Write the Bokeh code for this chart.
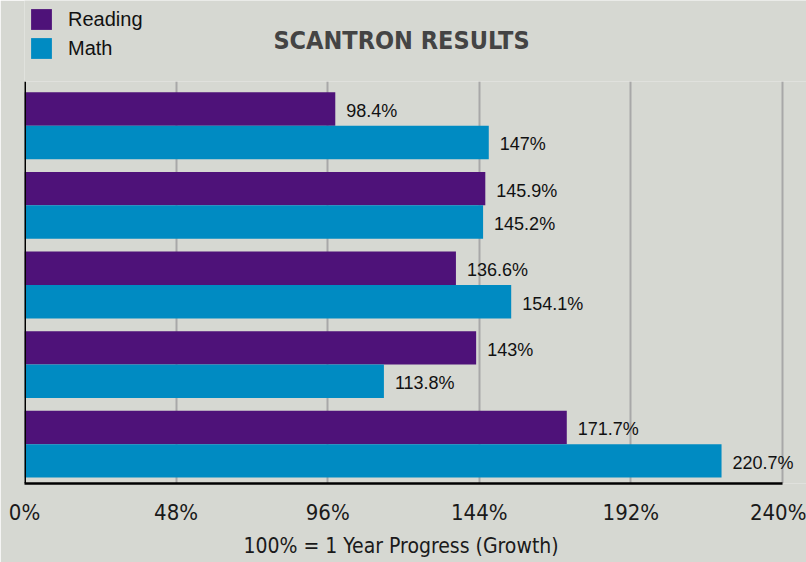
from bokeh.plotting import figure
from bokeh.layouts import column
from bokeh.models import Range1d, FixedTicker, Legend, LegendItem, Label, Span, Title, ColumnDataSource
from bokeh.transform import dodge
from bokeh.core.properties import value
from bokeh.embed import file_html
from bokeh.resources import INLINE

# ---- data ----
groups = [1, 2, 3, 4, 5]
reading = [98.4, 145.9, 136.6, 143, 171.7]
math_scores = [147, 145.2, 154.1, 113.8, 220.7]
reading_labels = ["98.4%", "145.9%", "136.6%", "143%", "171.7%"]
math_labels = ["147%", "145.2%", "154.1%", "113.8%", "220.7%"]
series_names = ["Reading", "Math"]
x_ticks = [0, 48, 96, 144, 192, 240]
x_tick_labels = ["0%", "48%", "96%", "144%", "192%", "240%"]
title_text = "SCANTRON RESULTS"
x_axis_title = "100% = 1 Year Progress (Growth)"

# ---- style ----
BG = "#d6d8d2"
PURPLE = "#4e1279"
BLUE = "#008bc2"
NARROW = "DejaVu Sans Condensed"
SANS = "Liberation Sans"
W = 806

# ---- header (title + legend) ----
header = figure(width=W, height=81, output_backend="svg", toolbar_location=None,
                x_range=Range1d(0, 1), y_range=Range1d(0, 1),
                x_axis_location=None, y_axis_location=None, title_location=None,
                min_border=0)
header.background_fill_color = BG
header.border_fill_color = BG
header.outline_line_color = None
header.grid.visible = False
# legend swatches only (their bar lies outside the visible header range)
lr1 = header.hbar(y=[-5], left=[0], right=[1], height=0.5, fill_color=PURPLE, line_color=None)
lr2 = header.hbar(y=[-5], left=[0], right=[1], height=0.5, fill_color=BLUE, line_color=None)
header.add_layout(Label(x=377, y=41, x_units="screen", y_units="screen", text=title_text,
                        text_align="center", text_baseline="middle", text_font=NARROW,
                        text_font_size="25px", text_font_style="bold", text_color="#444444"))
legend = Legend(items=[LegendItem(label=series_names[0], renderers=[lr1]),
                       LegendItem(label=series_names[1], renderers=[lr2])],
                location=(4, 20), orientation="vertical",
                glyph_width=26, glyph_height=26, label_standoff=14, spacing=3,
                padding=0, margin=0, border_line_color=None, background_fill_alpha=0,
                label_text_font=SANS, label_text_font_size="20px", label_text_color="#111111")
header.add_layout(legend)

# ---- main chart ----
src = ColumnDataSource(dict(g=groups, reading=reading, math=math_scores,
                            rl=reading_labels, ml=math_labels))

p = figure(width=W, height=482, output_backend="svg", toolbar_location=None,
           x_range=Range1d(0, 247.6), y_range=Range1d(5.494, 0.444),
           y_axis_location=None, title_location=None,
           min_border_left=24, min_border_right=0,
           min_border_top=1, min_border_bottom=77)
p.margin = (-1, 0, 0, 0)
p.background_fill_color = BG
p.border_fill_color = BG
p.outline_line_color = None

BAR_H = 0.42
p.hbar(y=dodge("g", -0.21, range=p.y_range), right="reading", left=0, height=BAR_H,
       source=src, fill_color=PURPLE, line_color=None)
p.hbar(y=dodge("g", 0.21, range=p.y_range), right="math", left=0, height=BAR_H,
       source=src, fill_color=BLUE, line_color=None)

p.text(x="reading", y=dodge("g", -0.21, range=p.y_range), text="rl", source=src,
       x_offset=11, y_offset=2, text_align="left", text_baseline="middle",
       text_font=value(SANS), text_font_size="18px", text_color="#111111")
p.text(x="math", y=dodge("g", 0.21, range=p.y_range), text="ml", source=src,
       x_offset=11, y_offset=2, text_align="left", text_baseline="middle",
       text_font=value(SANS), text_font_size="18px", text_color="#111111")

p.xaxis.ticker = FixedTicker(ticks=x_ticks)
p.xaxis.bounds = (x_ticks[0], x_ticks[-1])
p.xaxis.major_label_overrides = {t: l for t, l in zip(x_ticks, x_tick_labels)}
p.xaxis.axis_line_color = "black"
p.xaxis.axis_line_width = 2.5
p.xaxis.major_tick_line_color = None
p.xaxis.minor_tick_line_color = None
p.xaxis.major_label_text_font = NARROW
p.xaxis.major_label_text_font_size = "22px"
p.xaxis.major_label_text_color = "#1a1a1a"
p.xaxis.major_label_standoff = 10

# axis title, left-aligned so it sits centred under the 0-240 span
p.add_layout(Title(text=x_axis_title, align="left", offset=219, standoff=9,
                   text_font=NARROW, text_font_size="21px", text_font_style="normal",
                   text_color="#1a1a1a"), "below")

p.xgrid.ticker = FixedTicker(ticks=x_ticks)
p.xgrid.grid_line_color = "#a8a8a8"
p.xgrid.grid_line_width = 2
p.ygrid.visible = False

p.add_layout(Span(location=0, dimension="height", line_color="black", line_width=3))

layout = column(header, p, spacing=0)
open("out.html", "w").write(file_html(layout, INLINE))
